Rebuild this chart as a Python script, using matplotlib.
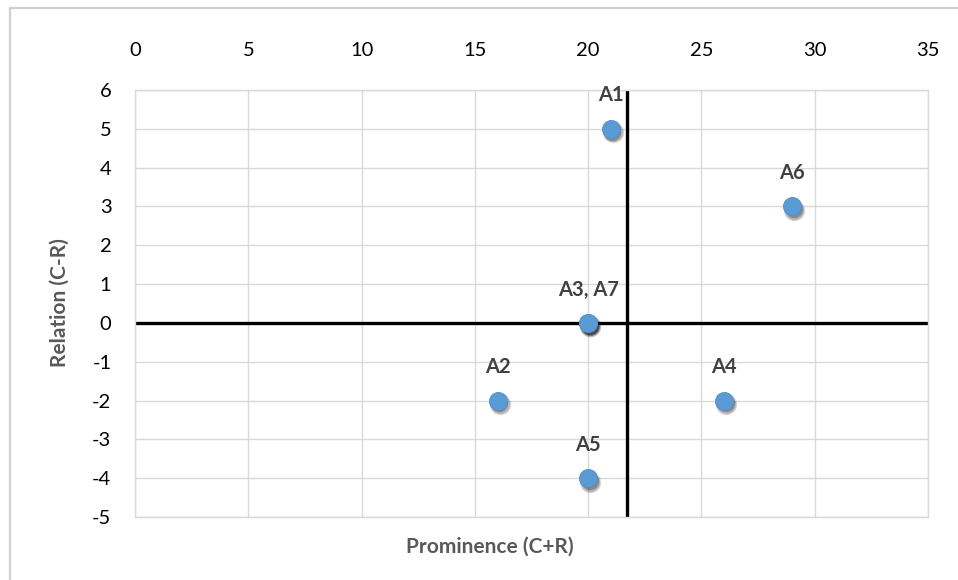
import matplotlib
matplotlib.use("Agg")
import matplotlib.pyplot as plt
import matplotlib.transforms as mtransforms
from matplotlib.lines import Line2D

# Alternatives: prominence (C+R) and relation (C-R)
alternatives = ["A1", "A2", "A3", "A4", "A5", "A6", "A7"]
prominence = [21, 16, 20, 26, 20, 29, 20]
relation = [5, -2, 0, -2, -4, 3, 0]

# Labels shown on the chart (A3 and A7 coincide, so they share one label)
label_text = ["A1", "A2", "A3, A7", "A4", "A5", "A6"]
label_x = [21, 16, 20, 26, 20, 29]
label_y = [5, -2, 0, -2, -4, 3]

x_ticks = [0, 5, 10, 15, 20, 25, 30, 35]
y_ticks = [-5, -4, -3, -2, -1, 0, 1, 2, 3, 4, 5, 6]

plt.rcParams["font.family"] = ["Lato", "DejaVu Sans"]
plt.rcParams["axes.unicode_minus"] = False

fig = plt.figure(figsize=(9.58, 5.80), dpi=100)
W, H = 958, 580
ax = fig.add_axes([135 / W, 1 - 517 / H, (928 - 135) / W, (517 - 90) / H])

# chart frame (left and top edges visible)
fig.add_artist(Line2D([9.5 / W, 9.5 / W], [0, 1 - 8 / H], color="#D0D0D0", lw=1.6))
fig.add_artist(Line2D([9.5 / W, 1], [1 - 8 / H, 1 - 8 / H], color="#D0D0D0", lw=1.6))

ax.set_xlim(0, 35)
ax.set_ylim(-5, 6)
ax.set_xticks(x_ticks)
ax.set_yticks(y_ticks)
ax.xaxis.tick_top()
ax.tick_params(axis="both", length=0, labelsize=14.5, labelcolor="#000000")
ax.tick_params(axis="x", pad=22)
ax.tick_params(axis="y", pad=17)
ax.grid(True, color="#D9D9D9", lw=1.0)
ax.set_axisbelow(True)
for s in ax.spines.values():
    s.set_color("#D9D9D9")
    s.set_linewidth(1.0)

# quadrant dividers: relation = 0 and mean prominence
mean_prom = sum(prominence) / len(prominence)
ax.axhline(0, color="black", lw=2.4, zorder=2)
ax.axvline(mean_prom, color="black", lw=2.4, zorder=2)

# soft drop shadow under the markers
for dx, dy, a, ms in [(1.5, -2.5, 0.12, 15.5), (1.5, -2.5, 0.18, 14), (1.2, -2.0, 0.25, 12.5)]:
    shadow_tf = mtransforms.offset_copy(ax.transData, fig=fig, x=dx, y=dy, units="points")
    ax.plot(prominence, relation, linestyle="none", marker="o", markersize=ms,
            color="black", alpha=a, markeredgewidth=0, transform=shadow_tf, zorder=3)

ax.plot(prominence, relation, linestyle="none", marker="o", markersize=13,
        color="#5B9BD5", markeredgecolor="#4F90CC", markeredgewidth=0.6, zorder=4)

for t, x, y in zip(label_text, label_x, label_y):
    ax.annotate(t, (x, y), xytext=(0, 24), textcoords="offset points",
                ha="center", va="center", fontsize=14.5, fontweight="bold",
                color="#404040", zorder=5)

fig.text(490 / W, 1 - 547 / H, "Prominence (C+R)", ha="center", va="center",
         fontsize=15, fontweight="bold", color="#595959")
fig.text(60 / W, 1 - 303 / H, "Relation (C-R)", ha="center", va="center",
         rotation=90, fontsize=15, fontweight="bold", color="#595959")

fig.savefig("out.png", dpi=100, facecolor="white")
